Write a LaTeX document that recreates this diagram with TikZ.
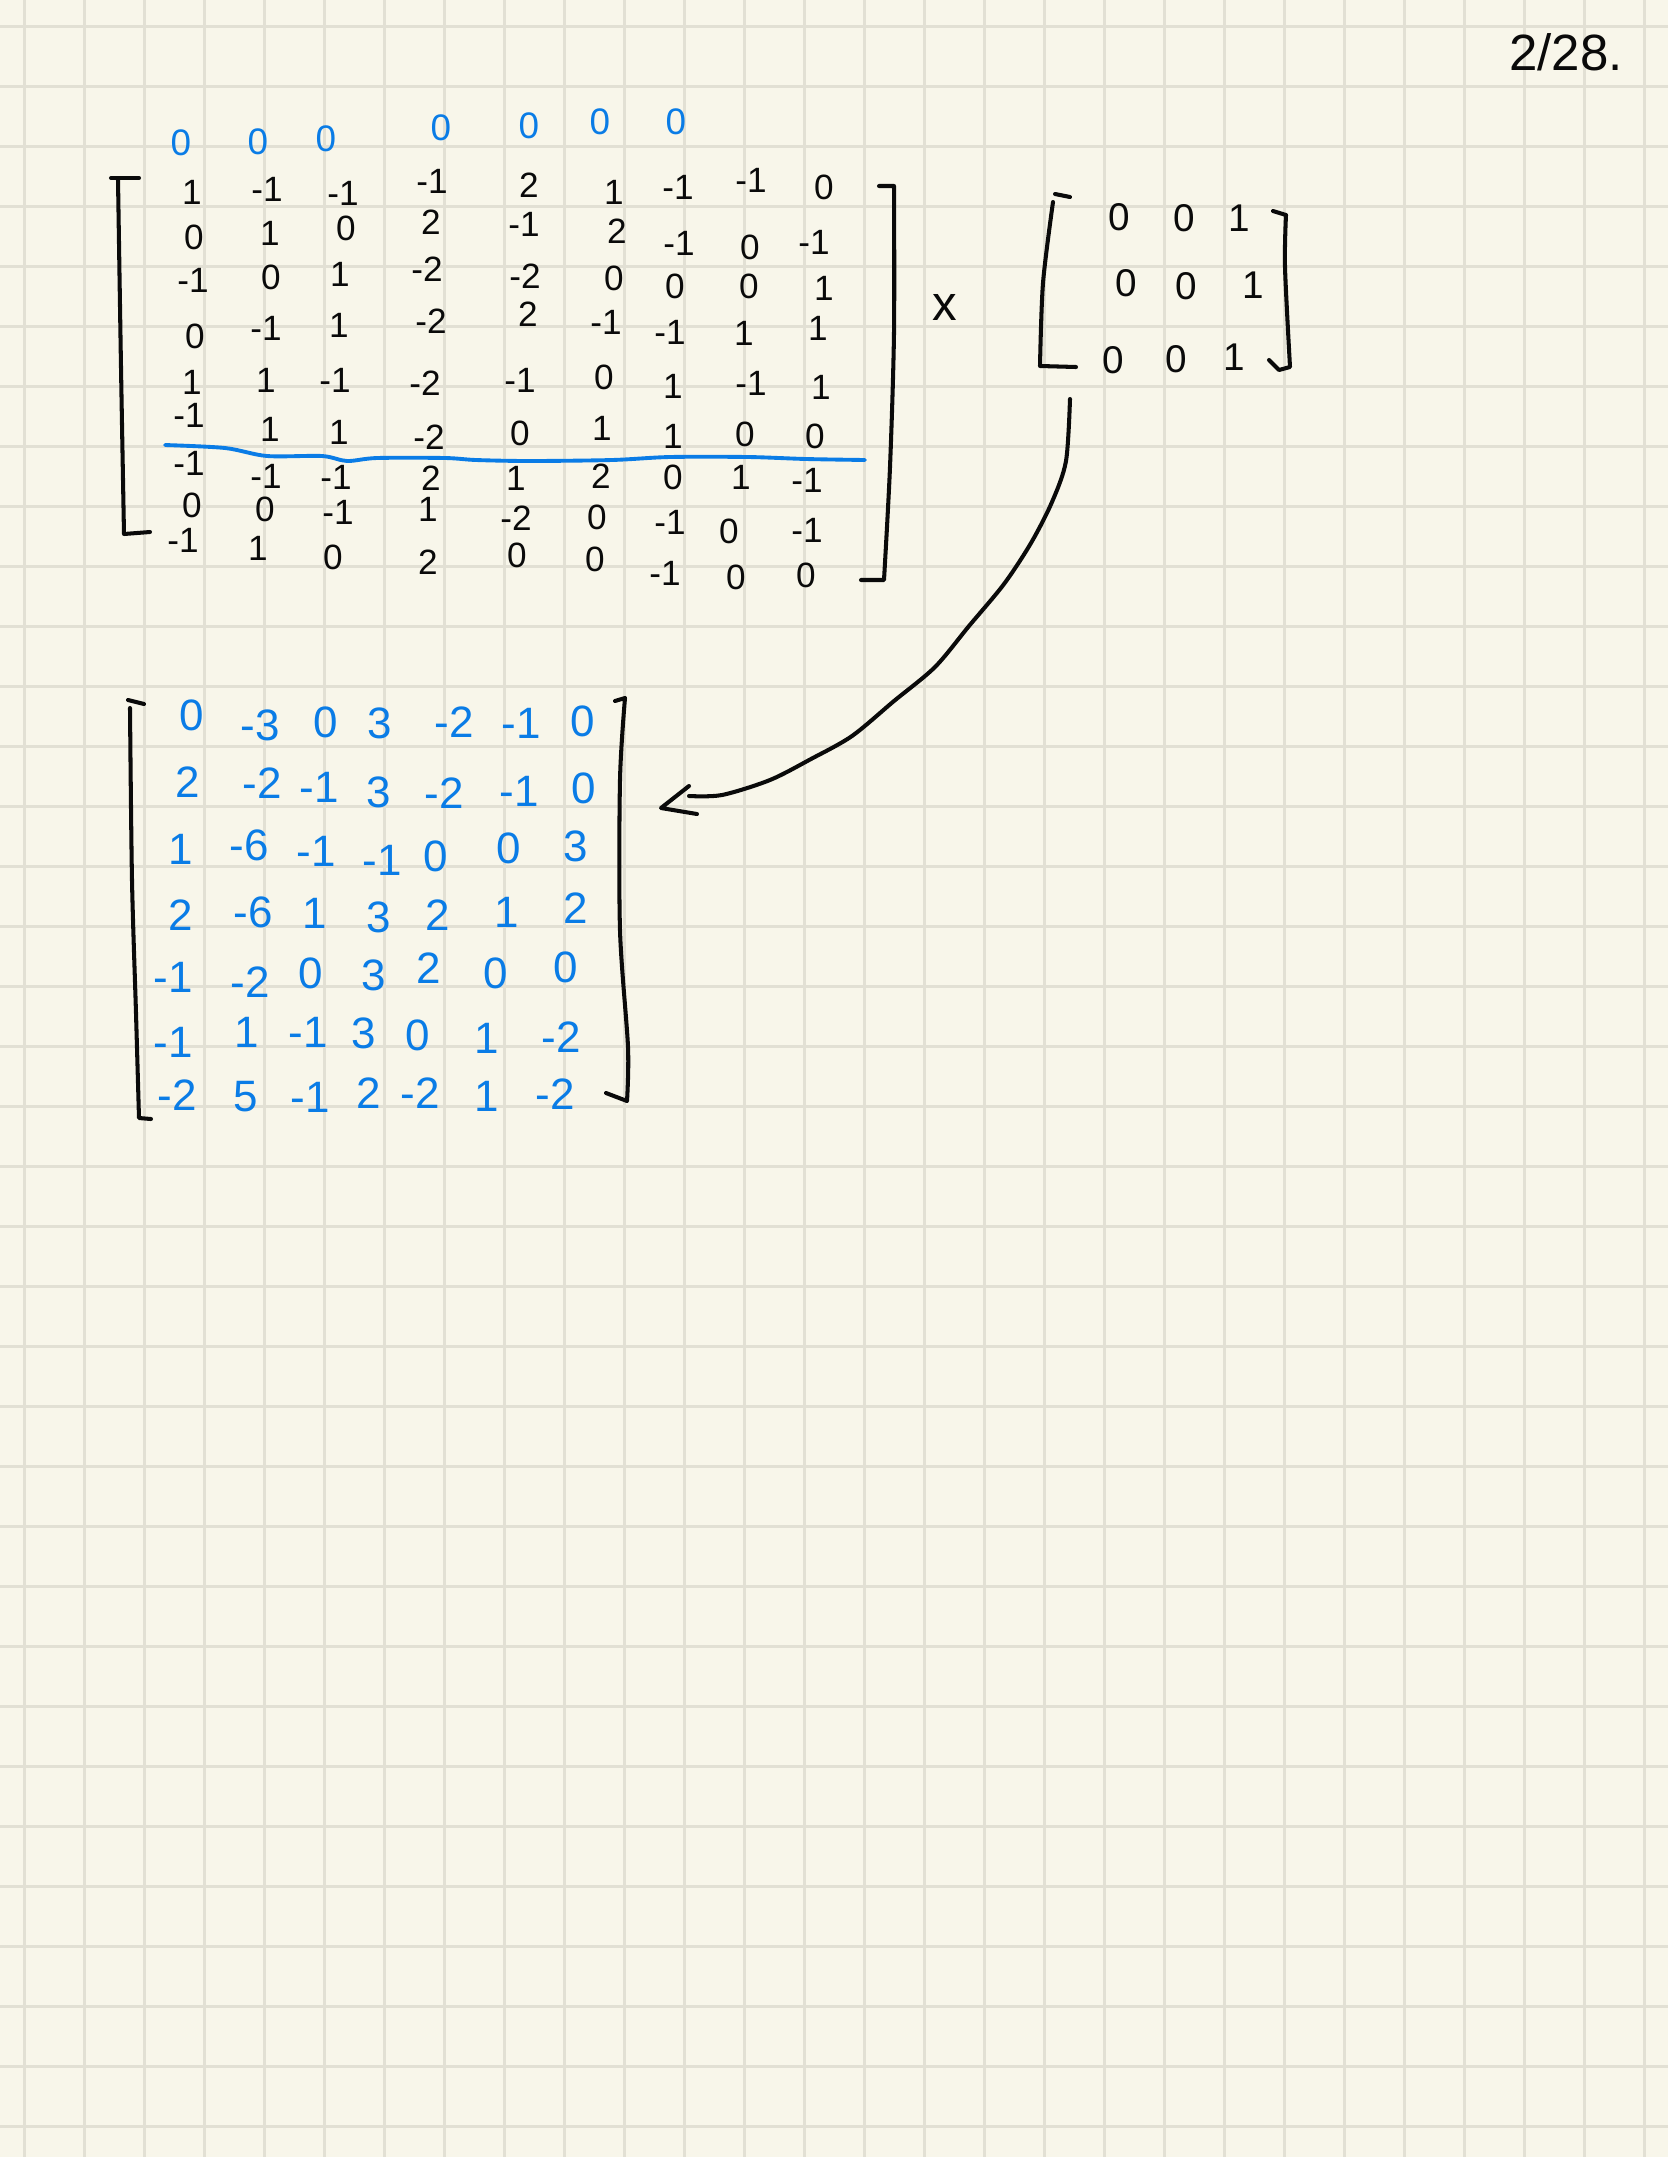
\documentclass[tikz,border=0pt]{standalone}
\usepackage{fontspec}
\setmainfont{Liberation Sans}
\definecolor{paper}{HTML}{F8F6EA}
\definecolor{ruling}{HTML}{E2E0D4}
\definecolor{ink}{HTML}{0A0A0A}
\definecolor{bluepen}{HTML}{0A7CE6}
\begin{document}
\begin{tikzpicture}[
  x=0.01cm, y=-0.01cm,
  ruleline/.style={ruling, line width=0.75pt},
  pen/.style={ink, line width=1.15pt, line cap=round, line join=round},
  bluestroke/.style={bluepen, line width=1.1pt, line cap=round, line join=round},
  elem/.style={ink, inner sep=0pt, font=\fontsize{10}{12}\selectfont},
  res/.style={bluepen, inner sep=0pt, font=\fontsize{12.5}{14}\selectfont},
  mark0/.style={bluepen, inner sep=0pt, font=\fontsize{10.5}{12}\selectfont},
  rhs/.style={ink, inner sep=0pt, font=\fontsize{11}{13}\selectfont},
]

\fill[paper] (0,0) rectangle (1668,2157);
\useasboundingbox (0,0) rectangle (1668,2157);

\foreach \gx in {0,...,27} \draw[ruleline] ({24.5+60*\gx},0) -- ({24.5+60*\gx},2157);
\foreach \gy in {0,...,35} \draw[ruleline] (0,{26.7+60*\gy}) -- (1668,{26.7+60*\gy});

\foreach \px/\py [count=\i] in {181/143,258/142,326/139,441/128,529/126,600/122,676/122}
  \node[mark0] (top\i) at (\px,\py) {0};

\foreach \px/\py/\val [count=\i] in {
  192/192/1,267/189/-1,343/193/-1,432/181/-1,529/185/2,614/192/1,678/187/-1,751/180/-1,824/187/0,
  194/237/0,270/233/1,346/228/0,431/222/2,524/224/-1,617/231/2,679/243/-1,750/247/0,814/242/-1,
  193/280/-1,271/277/0,340/274/1,427/269/-2,525/276/-2,614/278/0,675/286/0,749/286/0,824/288/1,
  195/336/0,266/328/-1,339/325/1,431/321/-2,528/314/2,606/322/-1,670/332/-1,744/333/1,818/328/1,
  192/382/1,266/380/1,335/380/-1,425/383/-2,520/380/-1,604/377/0,673/386/1,751/383/-1,821/387/1,
  189/415/-1,270/429/1,339/432/1,429/437/-2,520/433/0,602/428/1,673/436/1,745/434/0,815/436/0,
  189/463/-1,266/476/-1,336/477/-1,431/478/2,516/478/1,601/476/2,673/477/0,741/477/1,807/480/-1,
  192/505/0,265/509/0,338/512/-1,428/509/1,516/518/-2,597/517/0,670/522/-1,729/531/0,807/530/-1,
  183/540/-1,258/548/1,333/557/0,428/562/2,517/555/0,595/559/0,665/573/-1,736/577/0,806/575/0}
  \node[elem] (a\i) at (\px,\py) {\val};

\foreach \px/\py/\val [count=\i] in {
  1119/217/0,1184/218/0,1239/218/1,
  1126/283/0,1186/286/0,1253/285/1,
  1113/360/0,1176/359/0,1234/357/1}
  \node[rhs] (b\i) at (\px,\py) {\val};

\foreach \px/\py/\val [count=\i] in {
  192/715/0,260/725/-3,326/722/0,380/723/3,454/722/-2,521/723/-1,583/721/0,
  188/782/2,262/783/-2,319/787/-1,379/792/3,444/793/-2,519/791/-1,584/788/0,
  181/849/1,249/845/-6,316/851/-1,382/860/-1,436/856/0,509/848/0,576/846/3,
  181/915/2,253/912/-6,315/913/1,379/917/3,438/915/2,507/912/1,576/908/2,
  173/977/-1,250/982/-2,311/973/0,374/975/3,429/968/2,496/973/0,566/967/0,
  173/1042/-1,247/1032/1,308/1032/-1,364/1033/3,418/1035/0,487/1038/1,561/1037/-2,
  177/1095/-2,246/1097/5,310/1097/-1,369/1093/2,420/1093/-2,487/1096/1,555/1094/-2}
  \node[res] (c\i) at (\px,\py) {\val};

\node[ink, inner sep=0pt, font=\fontsize{14}{16}\selectfont] (times) at (945,307) {x};
\node[ink, inner sep=0pt, font=\fontsize{14.5}{16}\selectfont] (date) at (1566,52) {2/28.};

\draw[pen] (139,178) -- (111,178);
\draw[pen] plot[smooth] coordinates {(118,179) (121,367) (124,534)} -- (150,532);
\draw[pen] (879,186) -- (894,186) plot[smooth] coordinates {(894,186) (894,333) (890,467) (884,580)} -- (861,580);
\draw[bluestroke] plot[smooth] coordinates {(165,445) (225,448) (267,456) (322,456) (347,461) (377,458) (445,458) (476,460) (529,461) (612,460) (670,457) (748,457) (806,459) (865,460)};

\draw[pen] (128,700) -- (144,704);
\draw[pen] plot[smooth] coordinates {(130,708) (132,880) (136,1013) (139,1118)} -- (151,1119);
\draw[pen] (615,701) -- (625,698) plot[smooth] coordinates {(625,698) (620,780) (620,930) (628,1047) (627,1101)} -- (606,1093);

\draw[pen] (1055,194) -- (1070,197);
\draw[pen] plot[smooth] coordinates {(1053,202) (1043,283) (1040,366)} -- (1076,367);
\draw[pen] (1273,211) -- (1286,215) plot[smooth] coordinates {(1286,215) (1285,267) (1290,367)} -- (1279,370) -- (1269,360);

\coordinate (prod) at (1070,399);
\coordinate (back) at (689,796);
\coordinate (tip) at (661,808);
\draw[pen] plot[smooth] coordinates {(prod) (1066,461) (1052,502) (1031,543) (1004,584) (969,626) (935,667) (894,701) (852,736) (811,759) (770,780) (722,795) (back)};
\draw[pen] (689,786) -- (tip) -- (697,814);

\end{tikzpicture}
\end{document}
